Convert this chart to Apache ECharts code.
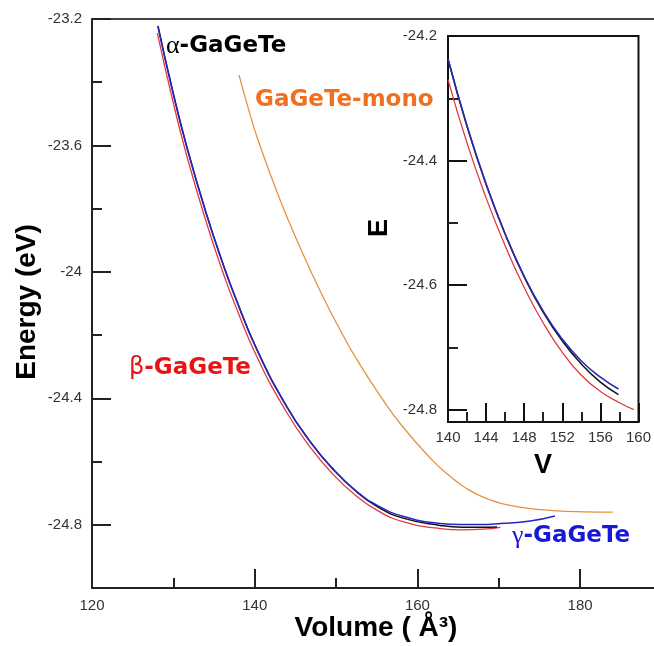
<!DOCTYPE html>
<html><head><meta charset="utf-8">
<script src="https://cdn.jsdelivr.net/npm/echarts@6/dist/echarts.min.js"></script>
<style>html,body{margin:0;padding:0;background:#fff}#c{width:654px;height:646px}</style>
</head><body><div id="c"></div>
<script>
// ---- main panel data (Volume in Å^3, Energy in eV) ----
const gammaV = [128.11,129.83,131.64,134.01,136.35,137.46,140.28,143.85,146.80,149.50,152.45,155.16,158.23,162.78,165.3,167.70,170.2,173.84,176.91];
const gammaE = [-23.225,-23.420,-23.604,-23.813,-23.994,-24.071,-24.247,-24.423,-24.537,-24.621,-24.693,-24.740,-24.773,-24.796,-24.799,-24.799,-24.796,-24.788,-24.772];
const alphaV = [128.11,129.83,131.64,134.01,136.35,137.46,140.28,143.85,146.80,149.50,152.45,155.16,158.23,162.78,165.5,167.7,169.8];
const alphaE = [-23.222,-23.418,-23.603,-23.812,-23.993,-24.070,-24.246,-24.422,-24.536,-24.620,-24.694,-24.744,-24.779,-24.802,-24.808,-24.808,-24.807];
const betaV = [128.03,129.83,131.64,134.01,136.35,137.46,140.28,143.85,146.80,149.50,152.45,155.16,158.23,162.78,165.5,168.0,170.2];
const betaE = [-23.245,-23.448,-23.632,-23.840,-24.020,-24.096,-24.269,-24.441,-24.554,-24.637,-24.708,-24.756,-24.790,-24.812,-24.816,-24.814,-24.808];
const monoV = [138.07,139.2,140.44,143.11,145.57,148.24,150.49,152.54,155.40,158.07,161.76,163.76,165.85,168.52,172.61,176.71,180.60,184.01];
const monoE = [-23.377,-23.482,-23.585,-23.772,-23.922,-24.071,-24.183,-24.277,-24.391,-24.486,-24.594,-24.641,-24.682,-24.717,-24.744,-24.755,-24.759,-24.760];

// ---- inset data ----
const inGammaV = [140,142,144,146,148,150,152,154,156,157.9];
const inGammaE = [-24.237,-24.345,-24.438,-24.518,-24.586,-24.642,-24.687,-24.722,-24.748,-24.767];
const inAlphaV = [140,142,144,146,148,150,152,154,156,157.9];
const inAlphaE = [-24.237,-24.345,-24.438,-24.518,-24.587,-24.644,-24.690,-24.727,-24.756,-24.776];
const inBetaV = [140,142,144,146,148,150,152,154,156,158,159.5];
const inBetaE = [-24.270,-24.372,-24.460,-24.537,-24.604,-24.661,-24.708,-24.745,-24.771,-24.789,-24.800];

// ---- tick values ----
const mainXTicks = [120,140,160,180];
const mainXMinor = [130,150,170];
const mainYTicks = [-24.8,-24.4,-24,-23.6,-23.2];
const mainYMinor = [-24.6,-24.2,-23.8,-23.4];
const inXTicks = [140,144,148,152,156,160];
const inXMinor = [142,146,150,154,158];
const inYTicks = [-24.8,-24.6,-24.4,-24.2];
const inYMinor = [-24.7,-24.5,-24.3];

function pairs(xs, ys){ return xs.map((x,i)=>[x, ys[i]]); }

const AX = '#222';
const labelStyle = {color:'#333', fontSize:15, fontFamily:'Liberation Sans'};

function majorAxis(extra){
  return Object.assign({
    type:'value', splitLine:{show:false},
    axisLine:{show:true, onZero:false, lineStyle:{color:AX, width:2}},
  }, extra);
}
function minorAxis(extra, vals, len){
  return Object.assign({
    type:'value', splitLine:{show:false},
    axisLine:{show:false, onZero:false},
    axisLabel:{show:false},
    axisTick:{show:true, inside:true, length:len, customValues:vals, lineStyle:{color:AX, width:2}}
  }, extra);
}

const chart = echarts.init(document.getElementById('c'), null, {renderer:'canvas'});

const lineS = (name, data, color, xi, yi, w) => ({
  name, type:'line', data, xAxisIndex:xi, yAxisIndex:yi, showSymbol:false, smooth:0.5,
  lineStyle:{color, width:w||1.5}, itemStyle:{color}, silent:true, animation:false
});

const option = {
  animation:false,
  backgroundColor:'#fff',
  grid:[
    {left:92, top:19, width:562, height:569},
    {left:448, top:36, width:195, height:386, show:true, backgroundColor:'#fff', borderColor:'#111', borderWidth:2}
  ],
  xAxis:[
    majorAxis({gridIndex:0, min:120, max:189.08, position:'bottom',
      axisTick:{show:true, inside:true, length:19, customValues:mainXTicks, lineStyle:{color:AX, width:2}},
      axisLabel:Object.assign({customValues:mainXTicks, margin:10}, labelStyle)}),
    minorAxis({gridIndex:0, min:120, max:189.08, position:'bottom'}, mainXMinor, 10),
    {type:'value', gridIndex:0, min:120, max:189.08, position:'top', splitLine:{show:false},
      axisLine:{show:true, onZero:false, lineStyle:{color:'#444', width:2}}, axisTick:{show:false}, axisLabel:{show:false}},
    majorAxis({gridIndex:1, min:140, max:160, position:'bottom',
      axisLine:{show:true, onZero:false, lineStyle:{color:'#111', width:2}},
      axisTick:{show:true, inside:true, length:19, customValues:inXTicks, lineStyle:{color:'#111', width:2}},
      axisLabel:Object.assign({customValues:inXTicks, margin:8}, labelStyle)}),
    minorAxis({gridIndex:1, min:140, max:160, position:'bottom'}, inXMinor, 10)
  ],
  yAxis:[
    majorAxis({gridIndex:0, min:-25, max:-23.2, position:'left',
      axisTick:{show:true, inside:true, length:19, customValues:mainYTicks, lineStyle:{color:AX, width:2}},
      axisLabel:Object.assign({customValues:mainYTicks, margin:10}, labelStyle)}),
    minorAxis({gridIndex:0, min:-25, max:-23.2, position:'left'}, mainYMinor, 10),
    majorAxis({gridIndex:1, min:-24.82, max:-24.2, position:'left',
      axisLine:{show:true, onZero:false, lineStyle:{color:'#111', width:2}},
      axisTick:{show:true, inside:true, length:19, customValues:inYTicks, lineStyle:{color:'#111', width:2}},
      axisLabel:Object.assign({customValues:inYTicks, margin:11}, labelStyle)}),
    minorAxis({gridIndex:1, min:-24.82, max:-24.2, position:'left'}, inYMinor, 10)
  ],
  series:[
    lineS('mono', pairs(monoV, monoE), '#e8913f', 0, 0, 1.3),
    lineS('beta', pairs(betaV, betaE), '#e03a3a', 0, 0, 1.3),
    lineS('alpha', pairs(alphaV, alphaE), '#111111', 0, 0, 1.5),
    lineS('gamma', pairs(gammaV, gammaE), '#2626c8', 0, 0, 1.5),
    lineS('inBeta', pairs(inBetaV, inBetaE), '#e03a3a', 3, 2, 1.3),
    lineS('inAlpha', pairs(inAlphaV, inAlphaE), '#111111', 3, 2, 1.5),
    lineS('inGamma', pairs(inGammaV, inGammaE), '#2a2ab0', 3, 2, 1.6)
  ],
  graphic:[
    {type:'text', x:166, y:46, z:10, style:{text:'{g|α}{t|-GaGeTe}', verticalAlign:'middle', align:'left',
      rich:{g:{fontFamily:'Liberation Serif', fontSize:26, fill:'#000'}, t:{fontFamily:'DejaVu Sans', fontWeight:'bold', fontSize:23, fill:'#000'}}}},
    {type:'text', x:255, y:100, z:10, style:{text:'GaGeTe-mono', verticalAlign:'middle', align:'left',
      fontFamily:'DejaVu Sans', fontWeight:'bold', fontSize:23, fill:'#f07020'}},
    {type:'text', x:129, y:368, z:10, style:{text:'{g|β}{t|-GaGeTe}', verticalAlign:'middle', align:'left',
      rich:{g:{fontFamily:'DejaVu Sans', fontSize:24, fill:'#e81414'}, t:{fontFamily:'DejaVu Sans', fontWeight:'bold', fontSize:23, fill:'#e81414'}}}},
    {type:'text', x:512, y:536, z:10, style:{text:'{g|γ}{t|-GaGeTe}', verticalAlign:'middle', align:'left',
      rich:{g:{fontFamily:'Liberation Serif', fontSize:26, fill:'#1818d8'}, t:{fontFamily:'DejaVu Sans', fontWeight:'bold', fontSize:23, fill:'#1818d8'}}}},
    {type:'text', x:27, y:302, rotation:Math.PI/2, z:10, style:{text:'Energy (eV)', align:'center', verticalAlign:'middle',
      fontFamily:'Liberation Sans', fontWeight:'bold', fontSize:28, fill:'#000'}},
    {type:'text', x:376, y:628, z:10, style:{text:'Volume ( Å³)', align:'center', verticalAlign:'middle',
      fontFamily:'Liberation Sans', fontWeight:'bold', fontSize:28, fill:'#000'}},
    {type:'text', x:380, y:228, rotation:Math.PI/2, z:10, style:{text:'E', align:'center', verticalAlign:'middle',
      fontFamily:'Liberation Sans', fontWeight:'bold', fontSize:27, fill:'#000'}},
    {type:'text', x:543, y:466, z:10, style:{text:'V', align:'center', verticalAlign:'middle',
      fontFamily:'Liberation Sans', fontWeight:'bold', fontSize:27, fill:'#000'}}
  ]
};
chart.setOption(option);
</script>
</body></html>
